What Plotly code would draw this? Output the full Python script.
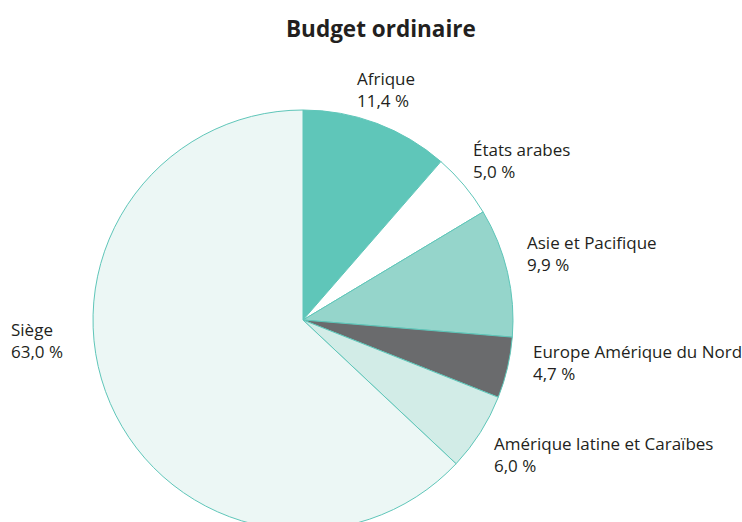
import plotly.graph_objects as go

# ---- data ----
regions = ["Afrique", "États arabes", "Asie et Pacifique", "Europe Amérique du Nord",
           "Amérique latine et Caraïbes", "Siège"]
shares = [11.4, 5.0, 9.9, 4.7, 6.0, 63.0]
slice_colors = ["#5fc6b9", "#ffffff", "#95d5cb", "#6a6b6d", "#d2ece7", "#ecf7f5"]
title_text = "Budget ordinaire"

W, H = 742, 540  # figure taller than window so the pie is cut at the bottom like the reference
cx, cy, r = 303, 320, 210

def px_x(x):
    return x / W

def px_y(y):
    return (H - y) / H

fig = go.Figure(go.Pie(
    labels=regions,
    values=shares,
    sort=False,
    direction="clockwise",
    rotation=0,
    marker=dict(colors=slice_colors, line=dict(color="#5fc6b9", width=1)),
    textinfo="none",
    hoverinfo="label+percent",
    showlegend=False,
    domain=dict(x=[px_x(cx - r), px_x(cx + r)], y=[px_y(cy + r), px_y(cy - r)]),
))

# label anchor positions (layout, in pixels of the reference: left edge, vertical centre)
label_pos = [(355, 89), (471, 160), (525, 254), (531, 362), (492, 454), (9, 340)]

font_family = "Open Sans, Noto Sans, sans-serif"
annotations = []
for name, val, (lx, ly) in zip(regions, shares, label_pos):
    annotations.append(dict(
        text=f"{name}<br>{val:.1f}".replace(".", ",") + " %",
        x=px_x(lx), y=px_y(ly), xref="paper", yref="paper",
        xanchor="left", yanchor="middle", align="left", showarrow=False,
        font=dict(family=font_family, size=17, color="#231f20"),
    ))
annotations.append(dict(
    text=f"<b>{title_text}</b>", x=px_x(381), y=px_y(29), xref="paper", yref="paper",
    xanchor="center", yanchor="middle", showarrow=False,
    font=dict(family=font_family, size=22.5, color="#231f20"),
))

fig.update_layout(
    width=W, height=H,
    margin=dict(l=0, r=0, t=0, b=0),
    paper_bgcolor="white", plot_bgcolor="white",
    annotations=annotations,
)

fig.write_html(
    "out.html",
    config={"displayModeBar": False},
    post_script="document.body.style.margin='0';document.body.style.overflow='hidden';document.documentElement.style.overflow='hidden';",
)
